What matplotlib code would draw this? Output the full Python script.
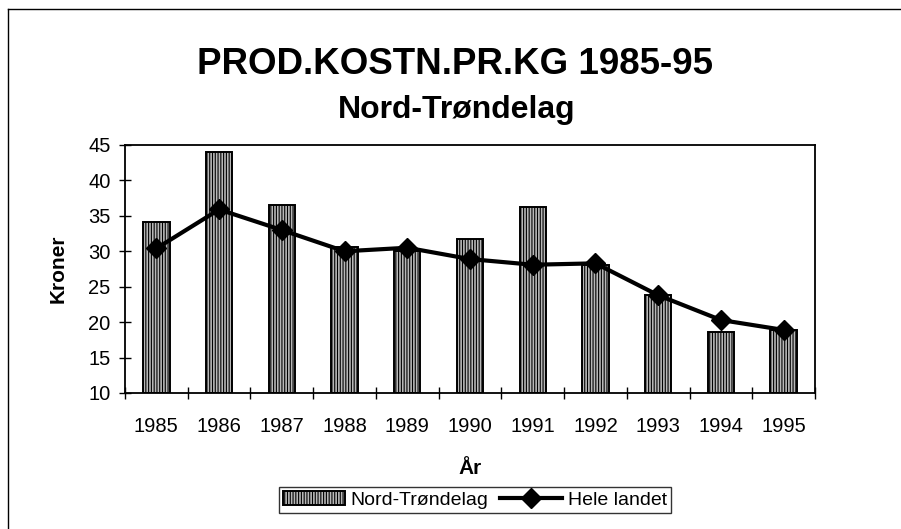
import matplotlib.pyplot as plt
from matplotlib.lines import Line2D
import numpy as np

plt.rcParams['font.family'] = ['Liberation Sans', 'DejaVu Sans']
plt.rcParams['hatch.linewidth'] = 0.8

# data
years = ['1985', '1986', '1987', '1988', '1989', '1990', '1991', '1992', '1993', '1994', '1995']
nord_trondelag = [34.2, 44.0, 36.5, 30.6, 30.0, 31.8, 36.2, 28.0, 23.9, 18.6, 18.9]
hele_landet = [30.4, 35.9, 33.0, 30.0, 30.5, 28.9, 28.1, 28.3, 23.8, 20.3, 18.9]

fig = plt.figure(figsize=(9.01, 5.29), dpi=100)
ax = fig.add_axes([125 / 901, 1 - 393 / 529, 690 / 901, 248 / 529])

x = np.arange(len(years))
bars = ax.bar(x, [v - 10 for v in nord_trondelag], bottom=10, width=0.42,
              facecolor='#b8b8b8', edgecolor='black', hatch='||||||', linewidth=1.4,
              label='Nord-Trøndelag')
line, = ax.plot(x, hele_landet, color='black', linewidth=3, marker='D', markersize=10,
                label='Hele landet')

ax.set_xlim(-0.5, len(years) - 0.5)
ax.set_ylim(10, 45)
ax.set_yticks(range(10, 46, 5))
ax.set_xticks(x)
ax.set_xticklabels(years)
ax.set_xticks(np.arange(-0.5, len(years), 1), minor=True)
ax.tick_params(axis='x', which='major', length=0, pad=17, labelsize=14.5)
ax.tick_params(axis='x', which='minor', direction='inout', length=9, width=1)
ax.tick_params(axis='y', direction='inout', length=9, width=1, labelsize=14.5, pad=6)
for s in ax.spines.values():
    s.set_linewidth(1.3)

ax.set_ylabel('Kroner', fontsize=15, fontweight='bold', labelpad=15)
ax.set_xlabel('År', fontsize=15, fontweight='bold', labelpad=17)

fig.text(455 / 901, 1 - 64 / 529, 'PROD.KOSTN.PR.KG 1985-95', ha='center', va='center',
         fontsize=26.5, fontweight='bold')
fig.text(457 / 901, 1 - 110 / 529, 'Nord-Trøndelag', ha='center', va='center',
         fontsize=23, fontweight='bold')

leg = fig.legend([bars, line], ['Nord-Trøndelag', 'Hele landet'], loc='center',
                 bbox_to_anchor=(475 / 901, 1 - 500 / 529), ncol=2,
                 frameon=True, fancybox=False, edgecolor='black', fontsize=14,
                 handlelength=3.2, handletextpad=0.3, columnspacing=0.6,
                 borderpad=0.2)
leg.get_frame().set_linewidth(1)

# outer frame of the scanned page
fig.add_artist(Line2D([8 / 901, 1], [1 - 9 / 529, 1 - 9 / 529], color='black', linewidth=1,
                      transform=fig.transFigure))
fig.add_artist(Line2D([8 / 901, 8 / 901], [0, 1 - 9 / 529], color='black', linewidth=1,
                      transform=fig.transFigure))

plt.savefig('out.png', dpi=100)
